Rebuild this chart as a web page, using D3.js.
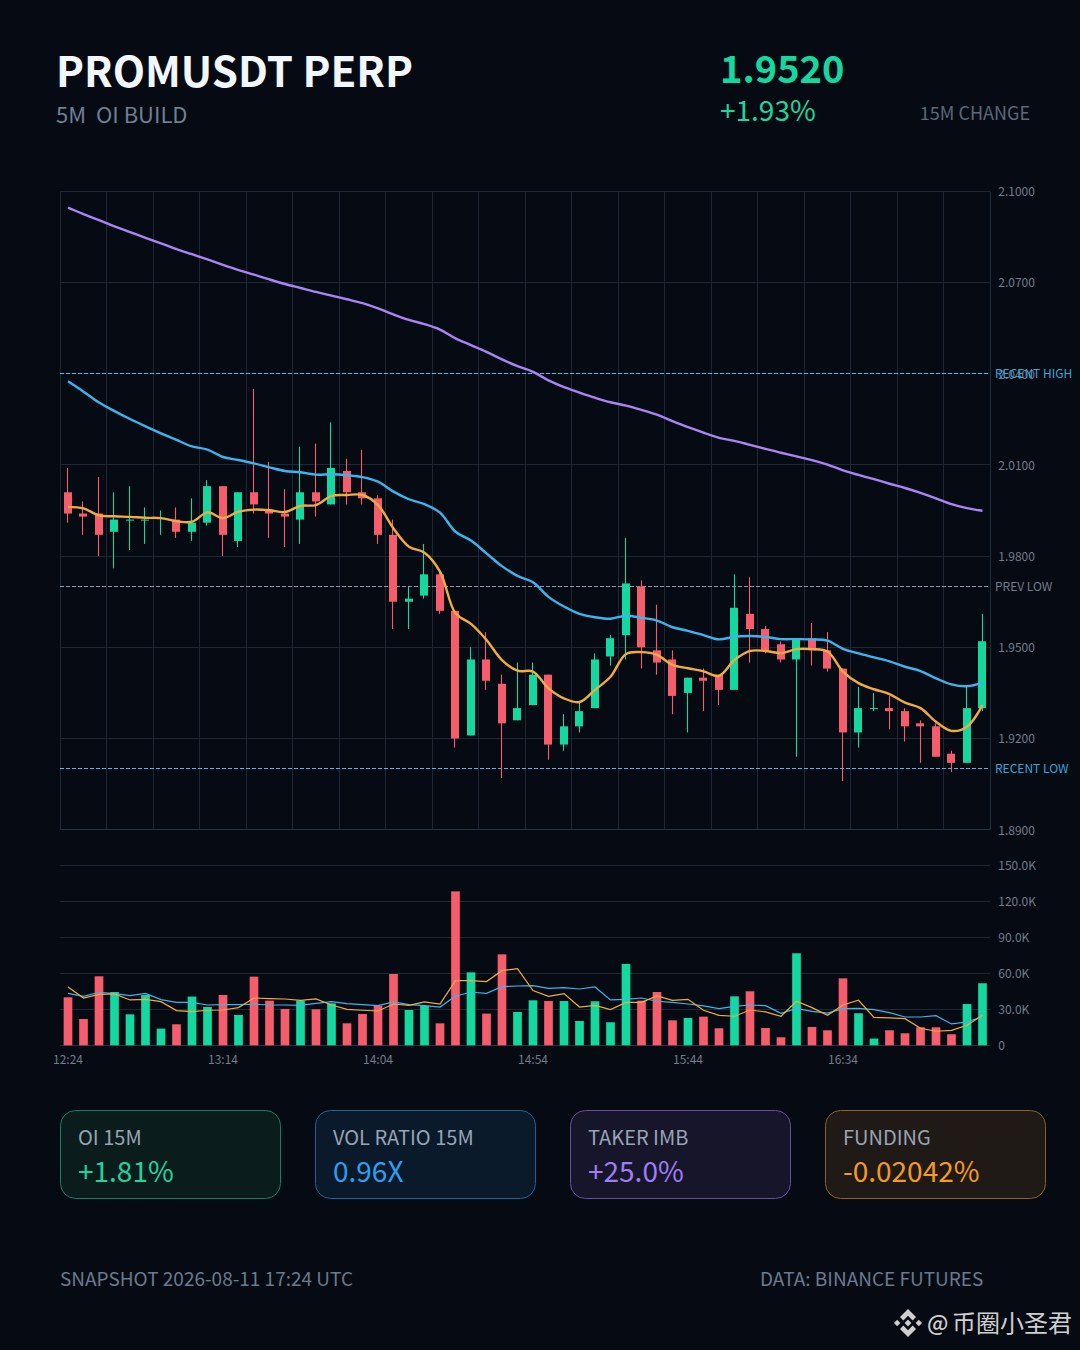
<!DOCTYPE html>
<html>
<head>
<meta charset="utf-8">
<script src="https://cdn.jsdelivr.net/npm/d3@7"></script>
<style>
  html, body { margin: 0; padding: 0; background: #060b13; }
  svg { display: block; }
  text { font-family: "Noto Sans CJK SC", "Noto Sans", sans-serif; }
  .tick text { font-family: "Noto Sans CJK SC", "Noto Sans", sans-serif; }
</style>
</head>
<body>
<div id="chart"></div>
<script>
// candles, one per 5 minutes from 12:24
const opens = [2.001,1.994,1.994,1.988,1.992,1.992,1.9925,1.992,1.988,1.991,
  2.003,1.985,2.001,1.995,1.994,1.992,2.001,1.997,2.008,2.001,
  1.999,1.987,1.965,1.967,1.974,1.962,1.921,1.946,1.938,1.926,
  1.931,1.941,1.918,1.924,1.930,1.947,1.954,1.970,1.949,1.946,
  1.935,1.940,1.941,1.936,1.961,1.956,1.951,1.946,1.953,1.949,
  1.943,1.922,1.930,1.930,1.929,1.925,1.924,1.915,1.912,1.930];
const closes = [1.994,1.993,1.987,1.992,1.992,1.992,1.9925,1.988,1.991,2.003,
  1.987,2.001,1.997,1.994,1.993,2.001,1.998,2.009,2.001,1.999,
  1.987,1.965,1.966,1.974,1.962,1.920,1.946,1.939,1.925,1.930,
  1.941,1.918,1.924,1.929,1.946,1.953,1.971,1.950,1.945,1.934,
  1.940,1.939,1.936,1.963,1.956,1.949,1.946,1.953,1.949,1.943,
  1.922,1.930,1.930,1.929,1.924,1.924,1.914,1.912,1.930,1.952];
const highs = [2.009,1.998,2.006,2.001,2.003,1.996,1.995,1.996,1.999,2.005,
  2.003,2.001,2.035,2.011,2.002,2.016,2.017,2.024,2.012,2.015,
  2.000,1.992,1.970,1.984,1.975,1.962,1.950,1.955,1.941,1.945,
  1.945,1.941,1.928,1.932,1.948,1.954,1.986,1.972,1.964,1.949,
  1.940,1.943,1.941,1.974,1.973,1.957,1.952,1.953,1.958,1.955,
  1.943,1.937,1.935,1.934,1.930,1.926,1.925,1.916,1.937,1.961];
const lows = [1.991,1.987,1.980,1.976,1.982,1.984,1.987,1.986,1.985,1.990,
  1.980,1.983,1.994,1.986,1.983,1.984,1.993,1.997,1.997,1.997,
  1.984,1.956,1.956,1.966,1.961,1.917,1.921,1.936,1.907,1.926,
  1.931,1.913,1.916,1.922,1.930,1.944,1.946,1.943,1.941,1.928,
  1.922,1.929,1.931,1.936,1.945,1.948,1.945,1.914,1.944,1.942,
  1.906,1.917,1.929,1.923,1.919,1.912,1.914,1.909,1.912,1.929];

// moving averages on price
const maFast = [1.9962,1.9957,1.9934,1.9931,1.9929,1.9926,1.9925,1.9915,1.9913,1.9944,
  1.9925,1.9946,1.9953,1.9951,1.9945,1.9965,1.9968,1.9998,2.0001,2.0001,
  1.9968,1.9891,1.9831,1.9811,1.9749,1.9612,1.9577,1.9524,1.9458,1.9423,
  1.9420,1.9365,1.9332,1.9320,1.9360,1.9403,1.9478,1.9484,1.9475,1.9442,
  1.9431,1.9421,1.9406,1.9458,1.9488,1.9488,1.9481,1.9494,1.9494,1.9486,
  1.9420,1.9382,1.9362,1.9346,1.9318,1.9300,1.9255,1.9225,1.9239,1.9310];
const maMid = [2.0375,2.0341,2.0305,2.0277,2.0251,2.0227,2.0204,2.0182,2.0161,2.0150,
  2.0126,2.0116,2.0105,2.0092,2.0080,2.0076,2.0068,2.0069,2.0066,2.0060,
  2.0045,2.0012,1.9987,1.9971,1.9943,1.9880,1.9851,1.9809,1.9767,1.9735,
  1.9714,1.9666,1.9634,1.9610,1.9599,1.9594,1.9604,1.9597,1.9588,1.9566,
  1.9554,1.9540,1.9526,1.9535,1.9537,1.9534,1.9527,1.9527,1.9526,1.9522,
  1.9495,1.9480,1.9467,1.9454,1.9436,1.9422,1.9398,1.9378,1.9372,1.9384];
const maSlow = [2.0946,2.0925,2.0905,2.0885,2.0866,2.0847,2.0829,2.0810,2.0793,2.0776,
  2.0758,2.0741,2.0726,2.0710,2.0695,2.0682,2.0669,2.0657,2.0645,2.0632,
  2.0615,2.0595,2.0577,2.0563,2.0545,2.0516,2.0494,2.0472,2.0447,2.0425,
  2.0406,2.0378,2.0356,2.0338,2.0321,2.0306,2.0295,2.0281,2.0265,2.0244,
  2.0224,2.0206,2.0189,2.0179,2.0166,2.0153,2.0140,2.0128,2.0116,2.0101,
  2.0082,2.0067,2.0053,2.0038,2.0024,2.0008,1.9990,1.9971,1.9958,1.9949];

// volume in thousands, with its two averages
const volumes = [40,21.9,57.5,44.4,25.8,41.9,13.9,17.5,40.6,31.9,
  41.9,25.3,57.2,37.2,30.3,37.2,30,35,18.3,26.1,
  33,59.4,29.4,33,18.3,128.3,60.8,26.4,75.8,27.8,
  37.5,36.9,36.9,20.3,36.7,19.2,67.8,37.2,44.4,20.8,
  22.8,23.9,14.2,40.8,45,14.4,6.7,76.7,15.3,12.5,
  55.8,26.7,5.6,12.5,10,15,15,9.2,34.4,51.7];
const volFast = [48.6,39.4,42.5,42.8,37.8,38.3,36.4,28.9,28,29.2,
  29.4,31.4,39.4,38.9,38.6,37.5,38.6,33.6,30,29.2,
  28.6,34.4,33.3,36.1,34.4,53.9,53.9,53.1,62.2,63.9,
  45.6,40.8,43.1,31.9,33.3,29.7,35.8,35.8,41.1,37.5,
  38.3,29.2,25,24.2,29.4,27.8,24.2,36.7,31.4,25,
  33.6,37.5,23.3,22.8,22.2,14.2,11.7,12.5,16.7,25];
const volSlow = [43.3,40.8,44.2,43.1,41.4,43.3,38.1,35.8,35.8,33.6,
  33.9,33.9,34.2,33.6,33.6,33.3,35,36.4,34.7,33.9,
  33,36.1,33.9,33,31.9,41.1,44.2,43.3,48.9,49.4,
  49.7,47.5,48.1,46.9,48.6,37.8,38.3,39.4,36.7,35.8,
  34.4,32.8,30.6,32.5,33.6,33,26.7,30.8,28.3,26.9,
  30.6,30.8,29.7,27.2,23.6,23.6,24.7,17.8,19.4,23.9];

const priceTicks = [1.89,1.92,1.95,1.98,2.01,2.04,2.07,2.10];
const volTicks = [0,30,60,90,120,150];
const timeTickIndex = [0,10,20,30,40,50];
const timeTickLabels = ["12:24","13:14","14:04","14:54","15:44","16:34"];

const levelPrices = [2.04,1.97,1.91];
const levelNames = ["RECENT HIGH","PREV LOW","RECENT LOW"];
const levelColors = ["#4fb8ea","#8a99ad","#4fb8ea"];

const cardLabels = ["OI 15M","VOL RATIO 15M","TAKER IMB","FUNDING"];
const cardValues = ["+1.81%","0.96X","+25.0%","-0.02042%"];
const cardColors = ["#22d39b","#2f9ff0","#a07cf5","#f59a23"];
const cardFills = ["#0b1c1d","#0a1a2a","#16152a","#1f1a16"];
const cardBorders = ["#138061","#1f6297","#65509f","#8f6024"];

const GREEN = "#14d8a0", RED = "#f55d6c";
const GRID = "#1e2733", AXIS_TEXT = "#727d8c";
const indices = d3.range(opens.length);

const svg = d3.select("#chart").append("svg")
    .attr("width", 1080)
    .attr("height", 1350)
    .attr("viewBox", "0 0 1080 1350");

svg.append("rect").attr("width", 1080).attr("height", 1350).attr("fill", "#060b13");

// Scales
const xCandle = d3.scaleBand().domain(indices).range([60.25, 990.25]).paddingInner(0.48).paddingOuter(0.24);
const xVol = d3.scaleBand().domain(indices).range([60.25, 990.25]).paddingInner(0.44).paddingOuter(0.22);
const xMid = i => xCandle(i) + xCandle.bandwidth() / 2;
const y = d3.scaleLinear().domain([1.89, 2.10]).range([829.7, 191.3]);
const yVol = d3.scaleLinear().domain([0, 150]).range([1045.3, 865.3]);

// keep 1px lines on a pixel row so they stay crisp
const crisp = v => Math.floor(v) + 0.5;

// Header
function label(x, yPos, str, size, color, weight, anchor) {
    return svg.append("text")
        .attr("x", x).attr("y", yPos)
        .attr("font-size", size)
        .attr("fill", color)
        .attr("font-weight", weight || 400)
        .attr("text-anchor", anchor || "start")
        .style("white-space", "pre")
        .text(str);
}
label(56, 87, "PROMUSDT PERP", 42, "#f2f6fd", 700);
label(56, 123, "5M  OI BUILD", 22, "#6f7f94");
label(720, 83, "1.9520", 38, "#14d8a0", 700);
label(720, 121, "+1.93%", 28, "#22d39b");
label(1030, 120, "15M CHANGE", 18, "#5c6979", 400, "end");

// Price panel grid
const gridIndex = indices.filter(i => i % 3 === 0);
svg.selectAll(".vgrid")
    .data(gridIndex)
    .enter().append("line")
    .attr("x1", i => crisp(xCandle(i) - xCandle.step() * 0.24))
    .attr("x2", i => crisp(xCandle(i) - xCandle.step() * 0.24))
    .attr("y1", crisp(y(2.10))).attr("y2", crisp(y(1.89)))
    .attr("stroke", GRID);
svg.append("line")
    .attr("x1", 990.5).attr("x2", 990.5)
    .attr("y1", crisp(y(2.10))).attr("y2", crisp(y(1.89)))
    .attr("stroke", "#222d3a");
svg.selectAll(".hgrid")
    .data(priceTicks)
    .enter().append("line")
    .attr("x1", 60).attr("x2", 990.5)
    .attr("y1", d => crisp(y(d))).attr("y2", d => crisp(y(d)))
    .attr("stroke", d => d === 1.89 ? "#263446" : GRID);

const priceAxis = svg.append("g")
    .attr("transform", "translate(990.25,0.5)")
    .call(d3.axisRight(y).tickValues(priceTicks).tickFormat(d3.format(".4f")).tickSize(0).tickPadding(8));
priceAxis.select(".domain").remove();
priceAxis.selectAll(".tick text").attr("font-size", 12).attr("fill", AXIS_TEXT);

// Level lines
svg.selectAll(".level")
    .data(levelPrices)
    .enter().append("line")
    .attr("x1", 60).attr("x2", 990)
    .attr("y1", d => crisp(y(d))).attr("y2", d => crisp(y(d)))
    .attr("stroke", (d, i) => levelColors[i])
    .attr("stroke-dasharray", "4,2");
svg.selectAll(".levelText")
    .data(levelPrices)
    .enter().append("text")
    .attr("x", 995)
    .attr("y", d => y(d) + 4.5)
    .attr("font-size", 12)
    .attr("fill", (d, i) => i === 1 ? AXIS_TEXT : "#3aa5d8")
    .text((d, i) => levelNames[i]);

// Candles
const candle = svg.selectAll(".candle")
    .data(indices)
    .enter().append("g")
    .attr("class", "candle");
candle.append("line")
    .attr("x1", i => crisp(xMid(i) - 0.5)).attr("x2", i => crisp(xMid(i) - 0.5))
    .attr("y1", i => y(highs[i])).attr("y2", i => y(lows[i]))
    .attr("stroke", i => closes[i] >= opens[i] ? GREEN : RED)
    .attr("stroke-width", 1.1);
candle.append("rect")
    .attr("x", i => Math.round(xCandle(i) - 0.25))
    .attr("width", Math.round(xCandle.bandwidth()))
    .attr("y", i => y(Math.max(opens[i], closes[i])))
    .attr("height", i => Math.max(1, Math.abs(y(opens[i]) - y(closes[i]))))
    .attr("fill", i => closes[i] >= opens[i] ? GREEN : RED);

// Price averages
const priceLine = d3.line().x((d, i) => xMid(i)).y(d => y(d)).curve(d3.curveCatmullRom.alpha(0.5));
[[maSlow, "#a884f5"], [maMid, "#3db4ee"], [maFast, "#f0ad3e"]].forEach(([series, color]) => {
    svg.append("path")
        .attr("d", priceLine(series))
        .attr("fill", "none")
        .attr("stroke", color)
        .attr("stroke-width", 2.4);
});

// Volume panel
svg.selectAll(".vgridline")
    .data(volTicks)
    .enter().append("line")
    .attr("x1", 60).attr("x2", 990.5)
    .attr("y1", d => crisp(yVol(d))).attr("y2", d => crisp(yVol(d)))
    .attr("stroke", d => d === 0 ? "#263446" : GRID);

const volAxis = svg.append("g")
    .attr("transform", "translate(990.25,0)")
    .call(d3.axisRight(yVol).tickValues(volTicks)
        .tickFormat(d => d === 0 ? "0" : d.toFixed(1) + "K").tickSize(0).tickPadding(8));
volAxis.select(".domain").remove();
volAxis.selectAll(".tick text").attr("font-size", 12).attr("fill", AXIS_TEXT);

svg.selectAll(".vol")
    .data(indices)
    .enter().append("rect")
    .attr("class", "vol")
    .attr("x", i => xVol(i))
    .attr("width", xVol.bandwidth())
    .attr("y", i => yVol(volumes[i]))
    .attr("height", i => yVol(0) - yVol(volumes[i]))
    .attr("fill", i => closes[i] >= opens[i] ? GREEN : RED);

const volLine = d3.line().x((d, i) => xMid(i)).y(d => yVol(d));
[[volSlow, "#3db4ee"], [volFast, "#f0ad3e"]].forEach(([series, color]) => {
    svg.append("path")
        .attr("d", volLine(series))
        .attr("fill", "none")
        .attr("stroke", color)
        .attr("stroke-width", 1.2);
});

// Time labels under the volume bars
const timeAxis = svg.append("g")
    .attr("transform", "translate(-0.5,1055.5)")
    .call(d3.axisBottom(d3.scalePoint().domain(indices).range([xMid(0), xMid(59)]))
        .tickValues(timeTickIndex)
        .tickFormat((d, i) => timeTickLabels[i])
        .tickSize(0).tickPadding(0));
timeAxis.select(".domain").remove();
timeAxis.selectAll(".tick text").attr("font-size", 12).attr("fill", AXIS_TEXT);

// Stat cards
const card = svg.selectAll(".card")
    .data(cardLabels)
    .enter().append("g")
    .attr("class", "card")
    .attr("transform", (d, i) => `translate(${60.5 + i * 255},1110.5)`);
card.append("rect")
    .attr("width", 220).attr("height", 88).attr("rx", 15)
    .attr("fill", (d, i) => cardFills[i])
    .attr("stroke", (d, i) => cardBorders[i]);
card.append("text")
    .attr("x", 17.5).attr("y", 34.5)
    .attr("font-size", 20)
    .attr("fill", "#98a4b5")
    .text(d => d);
card.append("text")
    .attr("x", 17.5).attr("y", 71)
    .attr("font-size", 28)
    .attr("fill", (d, i) => cardColors[i])
    .text((d, i) => cardValues[i]);

// Footer
label(60, 1286, "SNAPSHOT 2026-08-11 17:24 UTC", 19, "#6b7a8d");
label(760, 1286, "DATA: BINANCE FUTURES", 19, "#6b7a8d");

// Watermark: four diamond logo plus handle
const logo = svg.append("g").attr("transform", "translate(908,1323)").attr("fill", "#cfcfcf");
logo.append("path").attr("d", "M0,-14 L8,-6 L4.6,-2.6 L0,-7.2 L-4.6,-2.6 L-8,-6 Z");
logo.append("path").attr("d", "M0,14 L8,6 L4.6,2.6 L0,7.2 L-4.6,2.6 L-8,6 Z");
logo.append("path").attr("d", "M0,-3.4 L3.4,0 L0,3.4 L-3.4,0 Z");
logo.append("path").attr("d", "M-10.8,-3.2 L-14,0 L-10.8,3.2 L-7.6,0 Z");
logo.append("path").attr("d", "M10.8,-3.2 L14,0 L10.8,3.2 L7.6,0 Z");
label(927, 1331, "@", 22, "#cfcfcf", 500);
label(952, 1332, "币圈小圣君", 24, "#cfcfcf");
</script>
</body>
</html>
